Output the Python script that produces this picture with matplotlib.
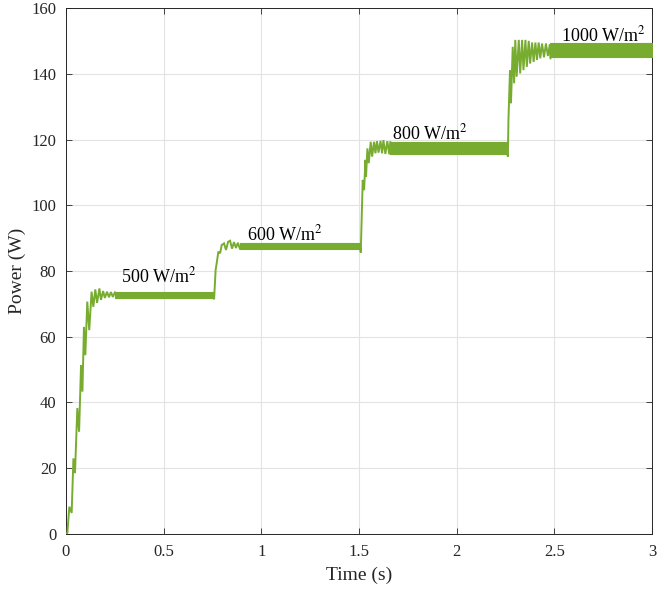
import matplotlib
matplotlib.use("Agg")
import matplotlib.pyplot as plt

# ---------------- data ----------------
# transient segments: time (s) and power (W)
t_tr1 = [0, 0.007, 0.017, 0.029, 0.038, 0.046, 0.058, 0.067, 0.077, 0.084, 0.092, 0.099,
         0.109, 0.119, 0.131, 0.14, 0.15, 0.159, 0.171, 0.179, 0.19, 0.199, 0.21, 0.22,
         0.23, 0.24, 0.25]
p_tr1 = [0, 0.3, 8.3, 6.4, 23, 18.5, 38.3, 31.1, 51.4, 43.3, 63, 54.4,
         70.7, 62, 73.7, 69.1, 74.4, 70.3, 74.7, 71.2, 73.9, 71.8, 73.7, 72.0,
         73.6, 72.1, 73.5]

t_tr2 = [0.756, 0.758, 0.766, 0.773, 0.78, 0.789, 0.797, 0.809, 0.819, 0.83, 0.84, 0.85,
         0.86, 0.87, 0.88, 0.89]
p_tr2 = [72.0, 71.4, 80.3, 83.0, 85.9, 85.4, 87.9, 88.4, 86.4, 88.9, 89.2, 86.8,
         88.8, 87.0, 88.6, 86.8]

t_tr3 = [1.507, 1.509, 1.519, 1.526, 1.533, 1.536, 1.543, 1.55, 1.56, 1.567, 1.577, 1.584,
         1.592, 1.6, 1.61, 1.618, 1.625, 1.635, 1.645, 1.655, 1.66]
p_tr3 = [86.8, 85.6, 107.7, 104.6, 113.8, 108.7, 117.3, 112.8, 119.3, 114.8, 119.3, 115.8,
         119.5, 116.0, 119.6, 115.8, 119.8, 115.6, 119.5, 115.5, 119.2]

t_tr4 = [2.26, 2.262, 2.265, 2.273, 2.278, 2.287, 2.294, 2.3, 2.307, 2.318, 2.325, 2.335,
         2.342, 2.352, 2.359, 2.369, 2.376, 2.386, 2.394, 2.403, 2.411, 2.42, 2.428,
         2.437, 2.447, 2.457, 2.467, 2.477, 2.48]
p_tr4 = [115.6, 114.8, 125.9, 141.1, 131.0, 148.2, 137.1, 150.3, 139.1, 150.3, 140.1, 150.3,
         141.1, 150.3, 142.1, 150.0, 143.1, 149.5, 143.6, 149.5, 144.2, 149.5, 144.7,
         149.2, 145.0, 149.2, 145.4, 149.0, 144.7]

# steady-state ripple bands (fast oscillation envelope)
band_start = [0.25, 0.89, 1.66, 2.48]
band_end = [0.756, 1.507, 2.26, 3.0]
band_low = [71.8, 86.7, 115.6, 145.0]
band_high = [73.5, 88.6, 119.2, 149.4]

# irradiance labels
label_text = ["500 W/m$^{2}$", "600 W/m$^{2}$", "800 W/m$^{2}$", "1000 W/m$^{2}$"]
label_t = [0.282, 0.925, 1.67, 2.533]
label_p = [76.6, 89.4, 120.0, 149.8]

x_ticks = [0, 0.5, 1, 1.5, 2, 2.5, 3]
x_ticklabels = ["0", "0.5", "1", "1.5", "2", "2.5", "3"]
y_ticks = [0, 20, 40, 60, 80, 100, 120, 140, 160]

# ---------------- style ----------------
plt.rcParams["font.family"] = ["Liberation Serif", "DejaVu Serif"]
plt.rcParams["mathtext.fontset"] = "stix"
green = "#77AC30"
axcol = "#262626"

fig = plt.figure(figsize=(6.58, 5.93), dpi=100)
ax = fig.add_axes([0.1003, 0.0995, 0.8906, 0.887])

lw = 1.4
for t, p in [(t_tr1, p_tr1), (t_tr2, p_tr2), (t_tr3, p_tr3), (t_tr4, p_tr4)]:
    ax.plot(t, p, color=green, lw=lw, solid_joinstyle="miter", zorder=3)

for s, e, lo, hi in zip(band_start, band_end, band_low, band_high):
    ax.fill_between([s, e], [lo, lo], [hi, hi], color=green, lw=0.8,
                    edgecolor=green, zorder=3)

for txt, t, p in zip(label_text, label_t, label_p):
    ax.text(t, p, txt, fontsize=13, color="black", ha="left", va="baseline", zorder=4)

ax.set_xlim(0, 3)
ax.set_ylim(0, 160)
ax.set_xticks(x_ticks)
ax.set_xticklabels(x_ticklabels)
ax.set_yticks(y_ticks)
ax.grid(True, color="#e3e3e3", lw=0.8, zorder=0)
ax.set_axisbelow(True)
ax.tick_params(direction="in", length=4, width=0.6, colors=axcol, labelsize=12,
               top=True, right=True, labelcolor=axcol, pad=7)
for sp in ax.spines.values():
    sp.set_color(axcol)
    sp.set_linewidth(0.7)
ax.set_xlabel("Time (s)", fontsize=14, color=axcol, labelpad=5)
ax.set_ylabel("Power (W)", fontsize=14, color=axcol, labelpad=4)

fig.savefig("out.png", dpi=100)
